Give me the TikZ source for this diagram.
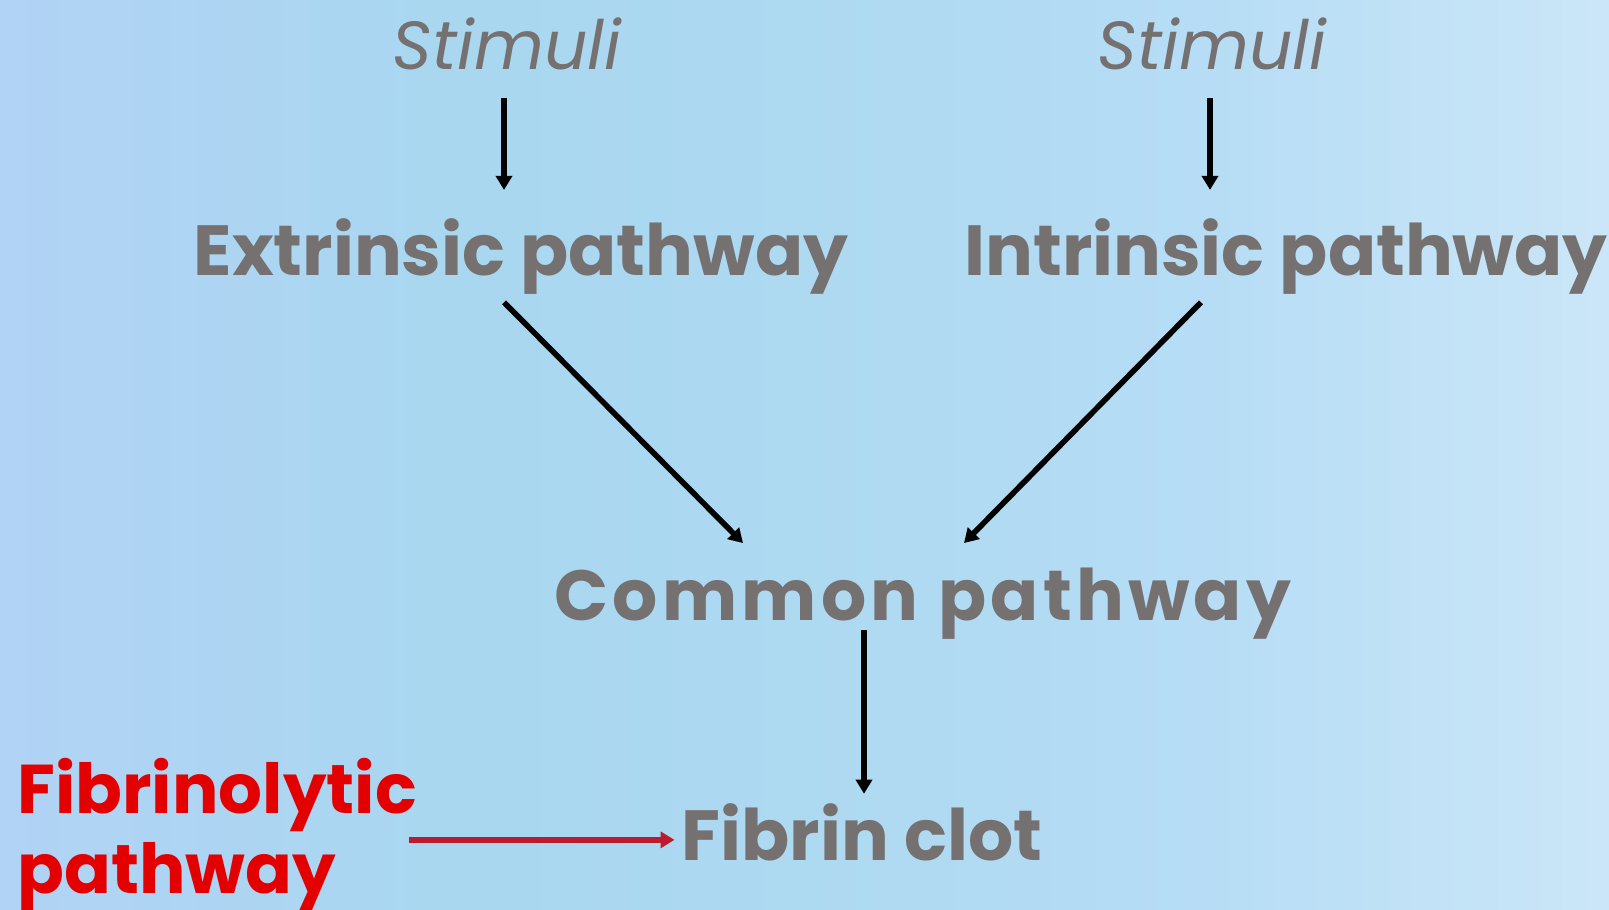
\documentclass[tikz,border=0pt]{standalone}
\usepackage{fontspec}
\setmainfont{Poppins}
\usetikzlibrary{arrows.meta,positioning,calc}
\definecolor{txtgrey}{HTML}{767171}
\definecolor{fibred}{HTML}{E30000}
\definecolor{arrred}{HTML}{BE1A2E}
\definecolor{bgleft}{HTML}{B1D3F5}
\definecolor{bgmid}{HTML}{A9D7F0}
\definecolor{bgmidb}{HTML}{ADD9F1}
\definecolor{bgmidc}{HTML}{B6DDF5}
\definecolor{bgright}{HTML}{CBE6F8}
\pgfdeclarehorizontalshading{backdrop}{100bp}{color(0bp)=(bgleft); color(25bp)=(bgleft);
  color(39bp)=(bgmid); color(50bp)=(bgmidb); color(62.5bp)=(bgmidc); color(75bp)=(bgright); color(100bp)=(bgright)}

\begin{document}
\begin{tikzpicture}[x=0.5pt,y=-0.5pt,
    lbl/.style={font=\fontsize{35.5}{40}\selectfont\bfseries, text=txtgrey, inner sep=0pt, anchor=base},
    stim/.style={font=\fontsize{34}{40}\selectfont\itshape, text=txtgrey, inner sep=0pt, anchor=base},
    arr/.style={-{Triangle[length=7pt,width=8pt]}, line width=2.8pt, black}]
  % background
  \shade[shading=backdrop] (0,0) rectangle (1609,909);
  \useasboundingbox (0,0) rectangle (1609,909);

  \node[stim] (stimA) at (507,70) {Stimuli};
  \node[stim] (stimB) at (1212,70) {Stimuli};
  \node[lbl] (extr) at (521,275) {Extrinsic pathway};
  \node[lbl] (intr) at (1286,275) {Intrinsic pathway};
  \node[lbl] (common) at (923,620) {\addfontfeatures{LetterSpace=6}Common pathway};
  \node[lbl] (clot) at (862,860) {Fibrin clot};
  \node[lbl, text=fibred, align=left, anchor=base west, font=\fontsize{34.5}{40}\selectfont\bfseries] (fibrin) at (17,893) {Fibrinolytic\\pathway};

  \draw[arr] ($(stimA.south)+(-3,27)$) -- ($(stimA.south)+(-3,119)$);
  \draw[arr] ($(stimB.south)+(-2,27)$) -- ($(stimB.south)+(-2,119)$);
  \draw[arr] ($(extr.south)+(-17,8)$) -- ($(common.north)+(-180,-24)$);
  \draw[arr] ($(intr.south)+(-85,8)$) -- ($(common.north)+(41,-24)$);
  \draw[arr] ($(common.south)+(-59,-9)$) -- ($(clot.north)+(2,-9)$);
  \draw[-{Triangle[length=7pt,width=8pt]}, line width=3pt, arrred] ($(fibrin.east |- clot.west)+(-8,8)$) -- ($(clot.west)+(-7,8)$);
\end{tikzpicture}
\end{document}
